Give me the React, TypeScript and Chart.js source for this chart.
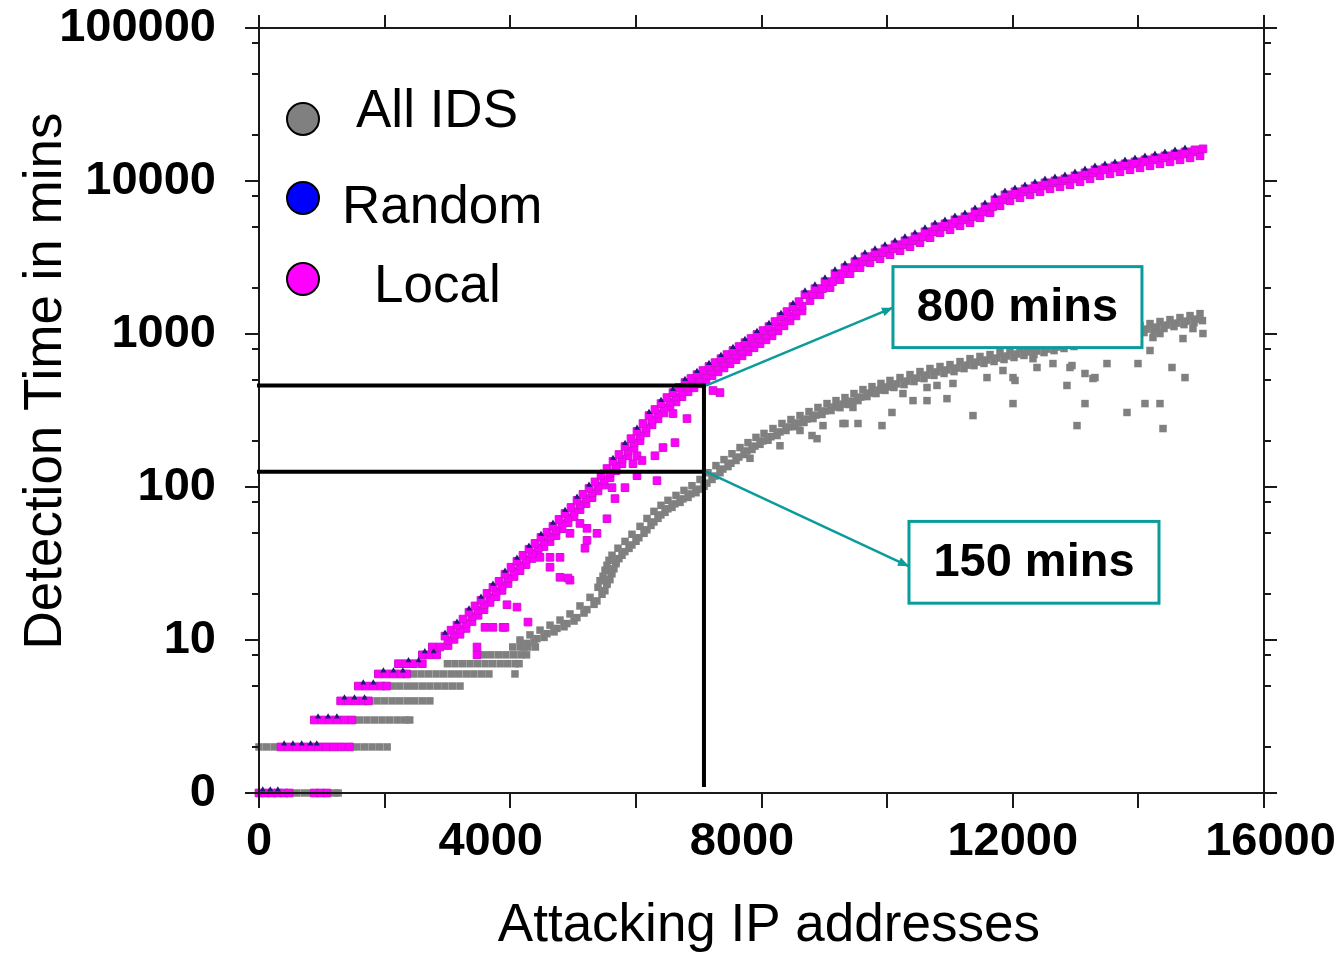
import React, { useEffect, useRef } from 'react';
import { Chart, registerables } from 'chart.js';

Chart.register(...registerables);

const FONT = "'Liberation Sans', Arial, Helvetica, sans-serif";

// ---------- axis ticks ----------
const xTicks = [0, 4000, 8000, 12000, 16000];
const xTickLabels = ['0', '4000', '8000', '12000', '16000'];
const xTickMarks = [0, 2000, 4000, 6000, 8000, 10000, 12000, 14000, 16000];
const yTicks = [1, 10, 100, 1000, 10000, 100000];
const yTickLabels = ['0', '10', '100', '1000', '10000', '100000'];
const yMinorTicks = [2, 5, 8, 20, 50, 80, 200, 500, 800, 2000, 5000, 8000, 20000, 50000, 80000];

// ---------- series names ----------
const seriesNames = ['All IDS', 'Random', 'Local'];
const seriesColors = ['#808080', '#0000ff', '#ff00ff'];

// ---------- All IDS (gray) ----------
const allIdsSteps = [
  [0, 1], [120, 1], [240, 1], [360, 1], [480, 1], [600, 1], [720, 1], [840, 1], [960, 1], [1080, 1], [1200, 1], [1260, 1],
  [0, 2], [120, 2], [240, 2], [360, 2], [480, 2], [600, 2], [720, 2], [840, 2], [960, 2], [1080, 2], [1200, 2], [1320, 2], [1440, 2], [1560, 2], [1680, 2], [1800, 2], [1920, 2], [2040, 2],
  [1480, 3], [1600, 3], [1720, 3], [1840, 3], [1960, 3], [2080, 3], [2200, 3], [2320, 3], [2400, 3],
  [1760, 4], [1880, 4], [2000, 4], [2120, 4], [2240, 4], [2360, 4], [2480, 4], [2600, 4], [2720, 4],
  [2120, 5], [2240, 5], [2360, 5], [2480, 5], [2600, 5], [2720, 5], [2840, 5], [2960, 5], [3080, 5], [3200, 5],
  [2460, 6], [2580, 6], [2700, 6], [2820, 6], [2940, 6], [3060, 6], [3180, 6], [3300, 6], [3420, 6], [3540, 6], [3660, 6], [4075, 6],
  [3000, 7], [3120, 7], [3240, 7], [3360, 7], [3480, 7], [3600, 7], [3720, 7], [3840, 7], [3960, 7], [4080, 7], [4140, 7],
  [3570, 8], [3690, 8], [3810, 8], [3930, 8], [4050, 8], [4170, 8], [4260, 8],
  [4040, 9], [4160, 9], [4280, 9], [4400, 9],
];
const allIdsBandUpper = [
  [4155, 10.0], [4314, 10.8], [4474, 11.6], [4633, 12.5], [4792, 13.5], [4951, 14.8], [5110, 16.7], [5270, 19.0], [5397, 22.1], [5429, 24.4],
  [5477, 26.1], [5509, 28.6], [5540, 30.8], [5572, 33.2], [5620, 35.8], [5715, 39.8], [5827, 44.1], [5938, 49.1], [6066, 55.3], [6177, 62.3],
  [6288, 69.3], [6400, 75.9], [6511, 81.8], [6639, 88.1], [6766, 95], [6893, 102], [7021, 112], [7148, 124], [7275, 138], [7403, 151],
  [7530, 165], [7658, 181], [7785, 195], [7912, 211], [8040, 224], [8183, 241], [8326, 260], [8469, 276], [8613, 293], [8756, 311],
  [8899, 331], [9043, 351], [9186, 367], [9329, 384], [9472, 408], [9615, 433], [9759, 453], [9902, 475], [10045, 497], [10205, 519],
  [10364, 543], [10523, 568], [10682, 595], [10842, 613], [11001, 631], [11160, 660], [11319, 690], [11478, 713], [11638, 734], [11797, 757],
  [11956, 780], [12115, 804], [12274, 816], [12434, 840], [12593, 866], [12752, 893], [12911, 920], [13070, 948], [13230, 977], [13389, 1007],
  [13548, 1037], [13707, 1069], [13866, 1102], [14026, 1135], [14185, 1170], [14344, 1206], [14503, 1242], [14662, 1280], [14822, 1319], [14981, 1359],
];
const allIdsBandMiddle = [
  [4265, 9.5], [4424, 10.2], [4584, 11.0], [4743, 11.9], [4902, 12.8], [5061, 14.0], [5220, 15.8], [5380, 18.0], [5507, 21.0], [5539, 23.1],
  [5587, 24.8], [5619, 27.1], [5650, 29.2], [5682, 31.5], [5730, 34.0], [5825, 37.8], [5937, 41.8], [6048, 46.6], [6176, 52.5], [6287, 59.1],
  [6398, 65.7], [6510, 72.0], [6621, 77.6], [6749, 83.6], [6876, 90.1], [7003, 96.8], [7131, 106], [7258, 118], [7385, 131], [7513, 143],
  [7640, 157], [7768, 172], [7895, 185], [8022, 200], [8150, 213], [8293, 229], [8436, 247], [8579, 262], [8723, 278], [8866, 295],
  [9009, 314], [9153, 333], [9296, 348], [9439, 364], [9582, 387], [9725, 411], [9869, 430], [10012, 451], [10155, 472], [10315, 492],
  [10474, 515], [10633, 539], [10792, 565], [10952, 582], [11111, 599], [11270, 626], [11429, 655], [11588, 676], [11748, 696], [11907, 718],
  [12066, 740], [12225, 763], [12384, 774], [12544, 797], [12703, 822], [12862, 847], [13021, 873], [13180, 899], [13340, 927], [13499, 955],
  [13658, 984], [13817, 1014], [13976, 1046], [14136, 1077], [14295, 1110], [14454, 1144], [14613, 1178], [14772, 1214], [14932, 1251],
];
const allIdsBandLower = [
  [4219, 9.0], [4378, 9.7], [4538, 10.4], [4697, 11.3], [4856, 12.2], [5015, 13.3], [5174, 15.0], [5334, 17.1], [5461, 19.9], [5541, 23.5],
  [5604, 27.7], [5684, 32.2], [5779, 35.8], [5891, 39.7], [6002, 44.2], [6130, 49.8], [6241, 56.1], [6352, 62.4], [6464, 68.3], [6575, 73.6],
  [6703, 79.3], [6830, 85.5], [6957, 91.8], [7085, 101], [7212, 112], [7339, 124], [7467, 136], [7594, 149], [7722, 163], [7849, 176],
  [7976, 190], [8104, 202], [8247, 217], [8390, 234], [8533, 248], [8677, 264], [8820, 280], [8963, 298], [9107, 316], [9250, 330],
  [9393, 346], [9536, 367], [9679, 390], [9823, 408], [9966, 428], [10109, 447], [10269, 467], [10428, 489], [10587, 511], [10746, 536],
  [10906, 552], [11065, 568], [11224, 594], [11383, 621], [11542, 642], [11702, 661], [11861, 681], [12020, 702], [12179, 724], [12338, 734],
  [12498, 756], [12657, 779], [12816, 804], [12975, 828], [13134, 853], [13294, 879], [13453, 906], [13612, 933], [13771, 962], [13930, 992],
  [14090, 1022], [14249, 1053], [14408, 1086], [14567, 1118], [14726, 1152], [14886, 1187], [15020, 1223],
];
const allIdsOutliers = [
  [7817, 154], [8294, 186], [8613, 234], [8884, 207], [8979, 252], [9329, 260], [9536, 260], [9918, 252], [9456, 331], [10077, 307],
  [10252, 408], [10412, 367], [10635, 367], [10953, 378], [10635, 447], [10794, 461], [11048, 475], [11367, 293], [11590, 519], [11844, 577],
  [12004, 351], [12036, 497], [12386, 604], [12640, 641], [12863, 461], [12943, 622], [13150, 552], [13150, 351], [13309, 519], [13500, 641],
  [13023, 252], [13819, 307], [14105, 351], [14344, 351], [13994, 641], [14392, 241], [15028, 1007], [14869, 1085], [14710, 934], [14344, 1007],
  [14232, 948], [14185, 780], [14535, 604], [14742, 519], [12322, 690], [12911, 604], [13277, 512], [12004, 519], [8804, 217], [9297, 260],
];

// ---------- Local (magenta) ----------
const localSteps = [
  [0, 1], [100, 1], [200, 1], [300, 1], [400, 1], [480, 1], [880, 1], [980, 1], [1080, 1],
  [350, 2], [470, 2], [590, 2], [710, 2], [830, 2], [950, 2], [1070, 2], [1190, 2], [1310, 2], [1440, 2],
  [880, 3], [1000, 3], [1120, 3], [1240, 3], [1360, 3], [1480, 3],
  [1300, 4], [1420, 4], [1540, 4], [1660, 4], [1740, 4],
  [1580, 5], [1700, 5], [1820, 5], [1940, 5], [2030, 5],
  [1900, 6], [2020, 6], [2140, 6], [2260, 6], [2350, 6],
  [2220, 7], [2340, 7], [2460, 7], [2600, 7],
  [2600, 8], [2720, 8], [2830, 8],
  [2760, 9], [2880, 9],
];
const localBandUpper = [
  [2961, 10.6], [3057, 11.6], [3152, 12.5], [3248, 13.7], [3343, 15.2], [3439, 16.7], [3534, 18.2], [3630, 20.2], [3725, 22.1], [3821, 24.2],
  [3916, 26.9], [4012, 29.9], [4107, 32.7], [4203, 35.8], [4298, 39.2], [4394, 42.8], [4489, 46.9], [4585, 50.6], [4680, 55.3], [4776, 61.4],
  [4872, 67.2], [4967, 73.5], [5063, 81.8], [5158, 89.5], [5254, 97.9], [5349, 108], [5445, 119], [5540, 132], [5636, 147], [5731, 163],
  [5827, 184], [5922, 207], [6018, 231], [6113, 260], [6209, 293], [6304, 321], [6400, 351], [6495, 384], [6591, 414], [6686, 447],
  [6782, 482], [6877, 512], [6973, 543], [7068, 577], [7164, 613], [7260, 650], [7355, 690], [7451, 734], [7546, 780], [7642, 828],
  [7737, 879], [7833, 934], [7928, 992], [8024, 1053], [8119, 1118], [8215, 1206], [8310, 1300], [8406, 1401], [8501, 1510], [8597, 1627],
  [8692, 1808], [8851, 1979], [9011, 2199], [9170, 2480], [9329, 2714], [9488, 2970], [9647, 3201], [9807, 3398], [9966, 3608], [10125, 3832],
  [10284, 4070], [10443, 4324], [10603, 4660], [10762, 5023], [10921, 5253], [11080, 5576], [11239, 5836], [11399, 6290], [11558, 6782], [11717, 7537],
  [11876, 8126], [12035, 8502], [12195, 8892], [12354, 9304], [12513, 9733], [12672, 10030], [12831, 10337], [12991, 10816], [13150, 11315], [13309, 11836],
  [13468, 12196], [13627, 12570], [13787, 12954], [13946, 13348], [14105, 13755], [14264, 14173], [14423, 14601], [14583, 15048], [14742, 15506], [14901, 15978],
  [15028, 16220],
];
const localBandMiddle = [
  [3009, 9.9], [3105, 10.8], [3200, 11.7], [3296, 12.8], [3391, 14.2], [3487, 15.6], [3582, 17.0], [3678, 18.9], [3773, 20.7], [3869, 22.6],
  [3964, 25.2], [4060, 28.0], [4155, 30.6], [4251, 33.5], [4346, 36.7], [4442, 40.0], [4537, 43.9], [4633, 47.3], [4728, 51.7], [4824, 57.4],
  [4920, 62.8], [5015, 68.7], [5111, 76.5], [5206, 83.7], [5302, 91.5], [5397, 101], [5493, 111], [5588, 123], [5684, 137], [5779, 152],
  [5875, 172], [5970, 194], [6066, 216], [6161, 243], [6257, 274], [6352, 300], [6448, 328], [6543, 359], [6639, 387], [6734, 418],
  [6830, 451], [6925, 479], [7021, 508], [7116, 539], [7212, 573], [7308, 608], [7403, 645], [7499, 686], [7594, 729], [7690, 774],
  [7785, 822], [7881, 873], [7976, 928], [8072, 985], [8167, 1045], [8263, 1128], [8358, 1216], [8454, 1310], [8549, 1412], [8645, 1521],
  [8812, 1808], [8971, 1979], [9131, 2199], [9290, 2480], [9449, 2714], [9608, 2970], [9767, 3201], [9927, 3398], [10086, 3608], [10245, 3832],
  [10404, 4070], [10563, 4324], [10723, 4660], [10882, 5023], [11041, 5253], [11200, 5576], [11359, 5836], [11519, 6290], [11678, 6782], [11837, 7537],
  [11996, 8126], [12155, 8502], [12315, 8892], [12474, 9304], [12633, 9733], [12792, 10030], [12951, 10337], [13111, 10816], [13270, 11315], [13429, 11836],
  [13588, 12196], [13747, 12570], [13907, 12954], [14066, 13348], [14225, 13755], [14384, 14173], [14543, 14601], [14703, 15048], [14862, 15506],
];
const localBandLower = [
  [3009, 9.2], [3105, 10.1], [3200, 10.9], [3296, 11.9], [3391, 13.2], [3487, 14.5], [3582, 15.8], [3678, 17.6], [3773, 19.2], [3869, 21.1],
  [3964, 23.4], [4060, 26.0], [4155, 28.4], [4251, 31.1], [4346, 34.1], [4442, 37.2], [4537, 40.8], [4633, 44.0], [4728, 48.1], [4824, 53.4],
  [4920, 58.5], [5015, 63.9], [5111, 71.2], [5206, 77.9], [5302, 85.2], [5397, 94.3], [5493, 103], [5588, 115], [5684, 128], [5779, 142],
  [5875, 160], [5970, 180], [6066, 201], [6161, 226], [6257, 255], [6352, 279], [6448, 305], [6543, 334], [6639, 360], [6734, 389],
  [6830, 419], [6925, 445], [7021, 472], [7116, 502], [7212, 533], [7308, 566], [7403, 600], [7499, 639], [7594, 679], [7690, 720],
  [7785, 765], [7881, 813], [7976, 863], [8072, 916], [8167, 973], [8263, 1049], [8358, 1131], [8454, 1219], [8549, 1314], [8645, 1415],
  [8772, 1653], [8931, 1809], [9091, 2010], [9250, 2267], [9409, 2481], [9568, 2715], [9727, 2926], [9887, 3106], [10046, 3298], [10205, 3503],
  [10364, 3720], [10523, 3952], [10683, 4260], [10842, 4591], [11001, 4802], [11160, 5097], [11319, 5335], [11479, 5750], [11638, 6199], [11797, 6889],
  [11956, 7428], [12115, 7771], [12275, 8128], [12434, 8505], [12593, 8897], [12752, 9168], [12911, 9449], [13071, 9887], [13230, 10343], [13389, 10819],
  [13548, 11148], [13707, 11490], [13867, 11841], [14026, 12201], [14185, 12573], [14344, 12955], [14503, 13346], [14663, 13755], [14822, 14174], [14981, 14605],
];
const localOutliers = [
  [7339, 414], [7228, 427], [6814, 280], [6591, 302], [6623, 195], [6432, 181], [6304, 160], [6336, 110], [6018, 160], [6097, 149],
  [5954, 142], [5827, 99], [5668, 84], [5540, 62], [5381, 49.8], [5190, 39.8], [5222, 44.8], [5110, 57.8], [4951, 49.8], [4792, 34.7],
  [4633, 29.9], [4633, 34.7], [4792, 25.7], [4951, 24.6], [4474, 34.7], [4107, 16.4], [3948, 17.0], [4282, 13.1], [3885, 12.1], [3725, 12.1],
  [3598, 12.1], [3471, 9], [3471, 8], [6018, 118.6], [5620, 99], [5222, 53.7], [4919, 25.4], [3916, 12.1],
];

// ---------- Random (blue) ----------
const randomPoints = [
  [60, 1.05], [180, 1.05], [300, 1.05],
  [400, 2.1], [540, 2.1], [680, 2.1], [820, 2.1], [920, 2.1],
  [940, 3.15], [1100, 3.15], [1240, 3.15],
  [1360, 4.2], [1520, 4.2], [1680, 4.2],
  [1660, 5.25], [1820, 5.25],
  [1980, 6.3], [2140, 6.3], [2290, 6.3],
  [2380, 7.35], [2540, 7.35],
  [2640, 8.4], [2780, 8.4],
  [2961, 11.1], [3152, 13.1], [3343, 16.0], [3534, 19.1], [3725, 23.2], [3916, 28.2], [4107, 34.3], [4298, 41.2], [4489, 49.2], [4680, 58.1],
  [4872, 70.6], [5063, 85.9], [5254, 103], [5445, 125], [5636, 154], [5827, 193], [6018, 243], [6209, 308], [6400, 369], [6591, 435],
  [6782, 506], [6973, 570], [7164, 644], [7355, 725], [7546, 819], [7737, 923], [7928, 1042], [8119, 1174], [8310, 1365], [8501, 1586],
  [8692, 1916], [8851, 2098], [9011, 2331], [9170, 2629], [9329, 2877], [9488, 3148], [9647, 3393], [9807, 3602], [9966, 3824], [10125, 4062],
  [10284, 4314], [10443, 4583], [10603, 4940], [10762, 5324], [10921, 5568], [11080, 5911], [11239, 6186], [11399, 6667], [11558, 7189], [11717, 7989],
  [11876, 8614], [12035, 9012], [12195, 9426], [12354, 9862], [12513, 10317], [12672, 10632], [12831, 10957], [12991, 11465], [13150, 11994], [13309, 12546],
  [13468, 12928], [13627, 13324], [13787, 13731], [13946, 14149], [14105, 14580], [14264, 15023], [14423, 15477], [14583, 15951], [14742, 16436],
];

// ---------- annotations (data units) ----------
const markerX = 7084;
const markerHigh = 460;
const markerLow = 126;
const markerBottom = 1.13;
const calloutLabels = ['800 mins', '150 mins'];
const calloutFrom = [[7084, 460], [7084, 126]];
const calloutTo = [[10093, 1487], [10348, 30.3]];
const calloutBoxes = [[10093, 2756, 14057, 815], [10348, 59.6, 14328, 17.4]];

const toPts = (arr: number[][]) => arr.map(([x, y]) => ({ x, y }));

const zeroPadding = (s: any) => {
  s.paddingTop = 0;
  s.paddingBottom = 0;
  s.paddingLeft = 0;
  s.paddingRight = 0;
};

export default function App() {
  const ref = useRef<HTMLCanvasElement>(null);

  useEffect(() => {
    const canvas = ref.current;
    if (!canvas) return;

    const decor = {
      id: 'decor',
      afterDraw(chart: any) {
        const { ctx, chartArea: ca, scales } = chart;
        const xs = scales.x;
        const ys = scales.y;
        ctx.save();
        // frame
        ctx.strokeStyle = '#1a1a1a';
        ctx.lineWidth = 2;
        ctx.strokeRect(ca.left, ca.top, ca.right - ca.left, ca.bottom - ca.top);
        // ticks
        ctx.beginPath();
        xTickMarks.forEach((v) => {
          const px = Math.round(xs.getPixelForValue(v));
          ctx.moveTo(px, ca.bottom);
          ctx.lineTo(px, ca.bottom + 15);
          ctx.moveTo(px, ca.top);
          ctx.lineTo(px, ca.top - 13);
        });
        yTicks.forEach((v) => {
          const py = Math.round(ys.getPixelForValue(v));
          ctx.moveTo(ca.left, py);
          ctx.lineTo(ca.left - 14, py);
          ctx.moveTo(ca.right, py);
          ctx.lineTo(ca.right + 13, py);
        });
        yMinorTicks.forEach((v) => {
          const py = Math.round(ys.getPixelForValue(v));
          ctx.moveTo(ca.left, py);
          ctx.lineTo(ca.left - 7, py);
          ctx.moveTo(ca.right, py);
          ctx.lineTo(ca.right + 7, py);
        });
        ctx.stroke();

        // black marker lines
        const mx = xs.getPixelForValue(markerX);
        const mh = ys.getPixelForValue(markerHigh);
        const ml = ys.getPixelForValue(markerLow);
        const mb = ys.getPixelForValue(markerBottom);
        const x0 = xs.getPixelForValue(0);
        ctx.strokeStyle = '#000';
        ctx.lineWidth = 4;
        ctx.lineCap = 'square';
        ctx.beginPath();
        ctx.moveTo(x0, mh);
        ctx.lineTo(mx, mh);
        ctx.moveTo(x0, ml);
        ctx.lineTo(mx, ml);
        ctx.moveTo(mx, mh);
        ctx.lineTo(mx, mb);
        ctx.stroke();
        ctx.lineCap = 'butt';

        // callouts
        const teal = '#0a9b9b';
        calloutLabels.forEach((label, i) => {
          const fx = xs.getPixelForValue(calloutFrom[i][0]) + 2;
          const fy = ys.getPixelForValue(calloutFrom[i][1]);
          const tx = xs.getPixelForValue(calloutTo[i][0]);
          const ty = ys.getPixelForValue(calloutTo[i][1]);
          ctx.strokeStyle = teal;
          ctx.fillStyle = teal;
          ctx.lineWidth = 2.5;
          ctx.beginPath();
          ctx.moveTo(fx, fy);
          ctx.lineTo(tx, ty);
          ctx.stroke();
          const a = Math.atan2(ty - fy, tx - fx);
          const L = 11;
          const W = 4.5;
          ctx.beginPath();
          ctx.moveTo(tx, ty);
          ctx.lineTo(tx - L * Math.cos(a) + W * Math.sin(a), ty - L * Math.sin(a) - W * Math.cos(a));
          ctx.lineTo(tx - L * Math.cos(a) - W * Math.sin(a), ty - L * Math.sin(a) + W * Math.cos(a));
          ctx.closePath();
          ctx.fill();

          const [bx1, by1, bx2, by2] = calloutBoxes[i];
          const l = xs.getPixelForValue(bx1);
          const r = xs.getPixelForValue(bx2);
          const t = ys.getPixelForValue(by1);
          const b = ys.getPixelForValue(by2);
          ctx.fillStyle = '#ffffff';
          ctx.fillRect(l, t, r - l, b - t);
          ctx.lineWidth = 3;
          ctx.strokeStyle = teal;
          ctx.strokeRect(l, t, r - l, b - t);
          ctx.fillStyle = '#000';
          ctx.font = `bold 47px ${FONT}`;
          ctx.textAlign = 'center';
          ctx.textBaseline = 'middle';
          ctx.fillText(label, (l + r) / 2, (t + b) / 2 + 1);
        });

        // legend
        const circleOffsets = [[44, 91], [44, 170], [44, 251]];
        const textOffsets = [[97, 99], [83, 195], [115, 274]];
        ctx.font = `53px ${FONT}`;
        ctx.textAlign = 'left';
        ctx.textBaseline = 'alphabetic';
        seriesNames.forEach((name, i) => {
          ctx.beginPath();
          ctx.arc(ca.left + circleOffsets[i][0], ca.top + circleOffsets[i][1], 16, 0, Math.PI * 2);
          ctx.fillStyle = seriesColors[i];
          ctx.fill();
          ctx.lineWidth = 2;
          ctx.strokeStyle = '#000';
          ctx.stroke();
          ctx.fillStyle = '#000';
          ctx.fillText(name, ca.left + textOffsets[i][0], ca.top + textOffsets[i][1]);
        });
        ctx.restore();
      },
    };

    const xLabelText = (i: number) => {
      const t = xTickLabels[i] ?? '';
      if (i === 1 || i === 2) return t + '   ';
      if (i === 4) return ' ' + t;
      return t;
    };

    const chart = new Chart(canvas, {
      type: 'scatter',
      data: {
        datasets: [
          {
            label: seriesNames[1],
            data: toPts(randomPoints),
            pointStyle: 'triangle',
            pointRadius: 3.5,
            backgroundColor: '#1c1c78',
            borderColor: '#1c1c78',
            borderWidth: 0,
            order: 0,
            clip: false,
          },
          {
            label: seriesNames[2],
            data: toPts([...localSteps, ...localBandLower, ...localBandMiddle, ...localBandUpper, ...localOutliers]),
            pointStyle: 'rect',
            pointRadius: 5.4,
            backgroundColor: '#ff00ff',
            borderColor: '#d010d0',
            borderWidth: 1,
            order: 1,
            clip: false,
          },
          {
            label: seriesNames[0],
            data: toPts([...allIdsSteps, ...allIdsBandLower, ...allIdsBandMiddle, ...allIdsBandUpper, ...allIdsOutliers]),
            pointStyle: 'rect',
            pointRadius: 5.3,
            backgroundColor: '#808080',
            borderColor: '#7a7a7a',
            borderWidth: 0,
            order: 2,
            clip: false,
          },
        ] as any,
      },
      options: {
        responsive: false,
        animation: false,
        events: [],
        layout: { padding: { top: 28, right: 74, left: 0, bottom: 0 } },
        plugins: { legend: { display: false }, tooltip: { enabled: false } },
        scales: {
          x: {
            type: 'linear',
            position: 'bottom',
            min: 0,
            max: 16000,
            grid: { display: false, drawTicks: false },
            border: { display: false },
            afterBuildTicks: (s: any) => {
              s.ticks = xTicks.map((v) => ({ value: v }));
            },
            afterFit: (s: any) => {
              s.height = 161;
              zeroPadding(s);
            },
            ticks: {
              autoSkip: false,
              maxRotation: 0,
              minRotation: 0,
              padding: 21,
              color: '#000',
              font: { family: FONT, size: 47, weight: 'bold', lineHeight: 1.2 },
              callback: (_v: any, i: number) => xLabelText(i),
            },
            title: {
              display: true,
              text: ' Attacking IP addresses',
              color: '#000',
              font: { family: FONT, size: 53, lineHeight: 1 },
              padding: { top: 0, bottom: 1 },
            },
          },
          y: {
            type: 'logarithmic',
            position: 'left',
            min: 1,
            max: 100000,
            grid: { display: false, drawTicks: false },
            border: { display: false },
            afterBuildTicks: (s: any) => {
              s.ticks = yTicks.map((v) => ({ value: v }));
            },
            afterFit: (s: any) => {
              s.width = 259;
              zeroPadding(s);
            },
            ticks: {
              autoSkip: false,
              padding: 43,
              color: '#000',
              font: { family: FONT, size: 47, weight: 'bold', lineHeight: 1 },
              callback: (_v: any, i: number) => yTickLabels[i] ?? '',
            },
            title: {
              display: true,
              text: '    Detection Time in mins',
              color: '#000',
              font: { family: FONT, size: 53, lineHeight: 1 },
              padding: { top: 20, bottom: 0 },
            },
          },
        },
      } as any,
      plugins: [decor],
    });

    return () => chart.destroy();
  }, []);

  return (
    <div style={{ position: 'fixed', left: 0, top: 0, width: 1338, height: 954, background: '#ffffff' }}>
      <canvas ref={ref} width={1338} height={954} style={{ display: 'block' }} />
    </div>
  );
}
